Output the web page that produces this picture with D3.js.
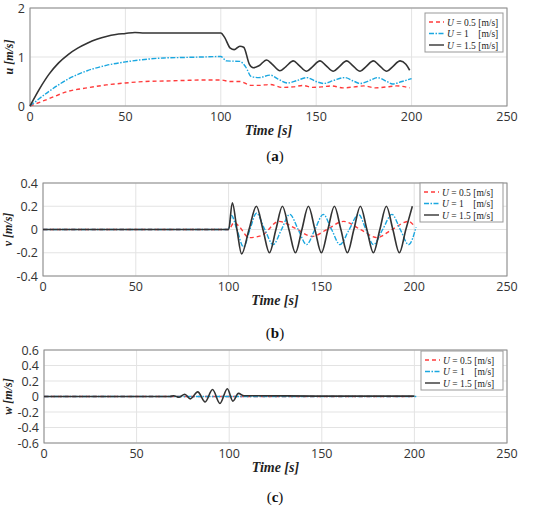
<!DOCTYPE html>
<html><head><meta charset="utf-8">
<script src="https://cdn.jsdelivr.net/npm/d3@7"></script>
<style>body{margin:0;background:#fff}svg text{font-family:"Open Sans",sans-serif}</style>
</head><body><svg id="c" width="550" height="519"></svg>
<script>
const seriesNames = ["0.5", "1", "1.5"];
const seriesUnitsPad = [" [m/s]", "    [m/s]", " [m/s]"];
const colors = ["#ff3b3b", "#1aa7e0", "#333333"];
const dashes = ["4,3", "5,1.5,1.5,1.5", null];
const xTicks = [0, 50, 100, 150, 200, 250];
const uTicks = [0, 1, 2];
const vTicks = [-0.4, -0.2, 0, 0.2, 0.4];
const wTicks = [-0.6, -0.4, -0.2, 0, 0.2, 0.4, 0.6];

// u panel
const u05 = [[0,0],[10,0.15],[20,0.3],[30,0.37],[40,0.43],[50,0.47],[60,0.5],[70,0.51],[80,0.52],[90,0.53],[100,0.53],[105,0.5],[110,0.5],[116,0.42],[120,0.42],[126,0.44],[132,0.38],[138,0.39],[143,0.42],[148,0.38],[153,0.39],[158,0.41],[164,0.37],[170,0.39],[175,0.41],[181,0.37],[187,0.39],[192,0.41],[199,0.37]];
const u1 = [[0,0],[10,0.3],[20,0.55],[30,0.72],[40,0.83],[50,0.9],[60,0.95],[70,0.98],[80,0.99],[90,1.0],[100,1.01],[103,0.92],[110,0.91],[113,0.8],[116,0.6],[120,0.58],[126,0.63],[130,0.55],[135,0.47],[140,0.52],[145,0.58],[150,0.5],[154,0.46],[159,0.52],[165,0.58],[170,0.5],[173,0.46],[178,0.52],[182,0.58],[187,0.5],[190,0.45],[195,0.5],[200,0.56]];
const u15 = [[0,0],[5,0.35],[10,0.65],[15,0.88],[20,1.05],[25,1.18],[30,1.28],[35,1.36],[40,1.42],[45,1.46],[50,1.48],[55,1.5],[60,1.49],[70,1.49],[80,1.49],[90,1.49],[100,1.49],[102,1.4],[105,1.18],[107,1.15],[110,1.22],[112,1.2],[115,0.85],[117,0.78],[120,0.82],[124,0.94],[127,0.85],[131,0.72],[134,0.8],[138,0.92],[141,0.83],[145,0.71],[148,0.8],[152,0.92],[155,0.83],[159,0.71],[162,0.8],[166,0.92],[169,0.83],[173,0.71],[176,0.8],[180,0.92],[183,0.83],[187,0.71],[190,0.8],[194,0.92],[197,0.85],[199,0.73]];
// v panel
const v05 = [[0,0],[100,0],[103,0.06],[106,0.02],[111,-0.07],[118,-0.05],[127,0.07],[136,0.01],[145,-0.06],[153,0.0],[162,0.07],[171,0.0],[180,-0.07],[188,0.0],[197,0.07],[200,0.03]];
const v1 = [[0,0],[100,0],[101.5,0.12],[104.5,0.0],[108,-0.15],[111.5,0],[115,0.14],[119.5,0],[124,-0.13],[128.5,0],[133,0.13],[137.5,0],[142,-0.13],[146.5,0],[151,0.13],[155.5,0],[160,-0.13],[165,0],[170,0.13],[174,0],[178,-0.13],[183,0],[188,0.13],[192.5,0],[197,-0.13],[201,0.02]];
const v15 = [[0,0],[100,0],[102,0.23],[104.5,0],[107,-0.21],[111,0],[115,0.2],[118.5,0],[122,-0.2],[125.5,0],[129,0.2],[132.5,0],[136,-0.2],[139.5,0],[143,0.2],[146.5,0],[150,-0.2],[153.5,0],[157,0.2],[160.5,0],[164,-0.2],[167.5,0],[171,0.2],[174.5,0],[178,-0.2],[181.5,0],[185,0.2],[188.5,0],[192,-0.2],[195.5,0],[199,0.2]];
// w panel
const w05 = [[0,0],[100,0],[200,0]];
const w1 = [[0,0],[100,0],[201,0]];
const w15 = [[0,0],[68,0],[70,0.01],[73,-0.01],[76,0.03],[79,-0.03],[83,0.06],[87,-0.07],[91,0.09],[95,-0.09],[99,0.1],[102,-0.06],[105,0.04],[108,0.01],[112,0.01],[150,0.005],[200,0.005]];

const svg = d3.select("#c");
function panel(o){
  const x = d3.scaleLinear().domain([0,250]).range([o.x0,o.x1]);
  const y = d3.scaleLinear().domain(o.dom).range([o.yb,o.yt]);
  const g = svg.append("g");
  g.append("g").selectAll("line").data(xTicks).join("line")
    .attr("x1",d=>x(d)).attr("x2",d=>x(d)).attr("y1",o.yt).attr("y2",o.yb).attr("stroke","#e3e3e3");
  g.append("g").selectAll("line").data(o.ticks).join("line")
    .attr("x1",o.x0).attr("x2",o.x1).attr("y1",d=>y(d)).attr("y2",d=>y(d)).attr("stroke","#e3e3e3");
  g.append("rect").attr("x",o.x0).attr("y",o.yt).attr("width",o.x1-o.x0).attr("height",o.yb-o.yt)
    .attr("fill","none").attr("stroke","#8a8a8a");
  g.append("g").selectAll("text").data(xTicks).join("text").attr("x",d=>x(d)).attr("y",o.yb+15)
    .attr("text-anchor","middle").attr("font-size",12.5).attr("fill","#333").text(d=>d);
  g.append("g").selectAll("text").data(o.ticks).join("text").attr("x",o.x0-5).attr("y",d=>y(d)+4.5)
    .attr("text-anchor","end").attr("font-size",12.5).attr("fill","#333").text(d=>d);
  const line = d3.line().x(d=>x(d[0])).y(d=>y(d[1])).curve(d3.curveMonotoneX);
  o.data.forEach((s,i)=>g.append("path").attr("d",line(s)).attr("fill","none")
    .attr("stroke",colors[i]).attr("stroke-width",i==2?1.6:1.4).attr("stroke-dasharray",dashes[i]));
  g.append("text").attr("x",(o.x0+o.x1)/2).attr("y",o.yb+29).attr("text-anchor","middle")
    .style("font-family","'Liberation Serif',serif").attr("font-weight","bold").attr("font-style","italic")
    .attr("font-size",14).attr("fill","#222").text("Time [s]");
  g.append("text").attr("transform",`translate(${o.lab},${(o.yt+o.yb)/2}) rotate(-90)`).attr("text-anchor","middle")
    .style("font-family","'Liberation Serif',serif").attr("font-weight","bold").attr("font-style","italic")
    .attr("font-size",12).attr("fill","#222").text(o.label+" [m/s]");
  const L = g.append("g").attr("transform",`translate(${o.lx},${o.ly})`);
  L.append("rect").attr("width",o.lw).attr("height",39).attr("fill","#fff").attr("stroke","#999");
  seriesNames.forEach((n,i)=>{
    const yy = 9+i*11.5;
    L.append("line").attr("x1",4).attr("x2",19).attr("y1",yy).attr("y2",yy).attr("stroke",colors[i])
      .attr("stroke-width",1.4).attr("stroke-dasharray",dashes[i]);
    const t = L.append("text").attr("x",22).attr("y",yy+3.5).attr("font-size",9.5).attr("fill","#222")
      .style("font-family","'Liberation Serif',serif").attr("xml:space","preserve");
    t.append("tspan").attr("font-style","italic").text("U");
    t.append("tspan").text(" = "+n+seriesUnitsPad[i]);
  });
  const c = svg.append("text").attr("x",275).attr("y",o.cap).attr("text-anchor","middle")
    .style("font-family","'Liberation Serif',serif").attr("font-size",15).attr("fill","#111");
  c.append("tspan").text("(");c.append("tspan").attr("font-weight","bold").text(o.letter);c.append("tspan").text(")");
}
panel({x0:30,x1:507,yt:8,yb:106,dom:[0,2],ticks:uTicks,data:[u05,u1,u15],label:"u",lab:13,lx:425,ly:13,lw:78,cap:161,letter:"a"});
panel({x0:43,x1:507,yt:183,yb:276,dom:[-0.4,0.4],ticks:vTicks,data:[v05,v1,v15],label:"v",lab:12,lx:420,ly:183,lw:83,cap:338,letter:"b"});
panel({x0:44,x1:507,yt:350,yb:443,dom:[-0.6,0.6],ticks:wTicks,data:[w05,w1,w15],label:"w",lab:12,lx:421,ly:351,lw:82,cap:502,letter:"c"});
</script></body></html>
